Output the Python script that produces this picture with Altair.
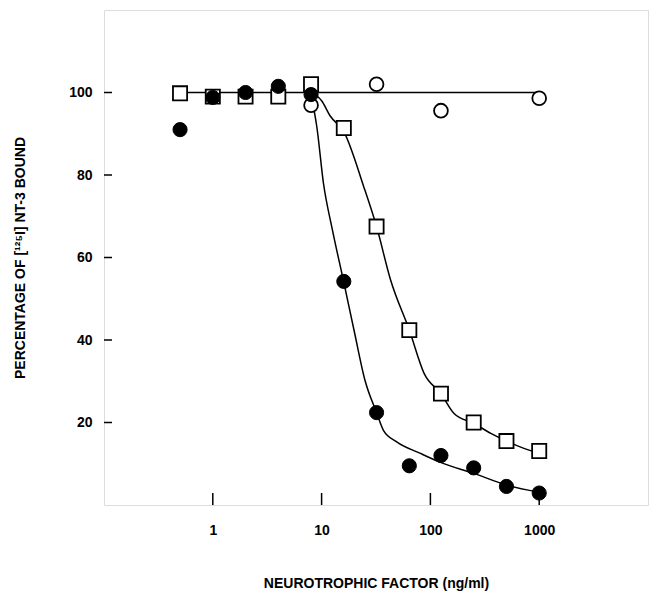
import altair as alt
import pandas as pd

# Measured points
conc = [0.5, 1, 2, 4, 8, 16, 32, 64, 125, 250, 500, 1000]
square_y = [99.8, 99.0, 99.0, 99.0, 102.0, 91.4, 67.5, 42.4, 27.0, 20.0, 15.5, 13.1]
filled_y = [91.0, 98.8, 100.0, 101.5, 99.5, 54.2, 22.4, 9.5, 12.0, 9.0, 4.5, 2.9]
open_x = [8, 32, 125, 1000]
open_y = [96.9, 102.0, 95.6, 98.6]

# Fitted curves
flat_x = [0.5, 1000]
flat_y = [100.0, 100.0]
fc_curve_x = [7, 8, 9, 10.4, 12.5, 16, 20, 25, 32, 37, 49, 81, 122, 254, 505, 1000]
fc_curve_y = [100, 98.5, 92, 78, 67, 54, 42, 30.3, 22.4, 18.1, 15.3, 12.5, 10.4, 7.6, 4.8, 3.1]
sq_curve_x = [7, 8, 10, 12, 16, 24.3, 32, 43, 64, 87.5, 125, 165, 250, 363, 500, 914, 1000]
sq_curve_y = [100, 99.8, 98, 94.3, 90.5, 77.3, 67.5, 54.6, 42.4, 31.9, 27, 22.2, 19.8, 17.3, 15.5, 12.9, 12.7]

x_ticks = [1, 10, 100, 1000]
y_ticks = [20, 40, 60, 80, 100]

FONT = "Liberation Sans"

xscale = alt.Scale(type="log", domain=[0.1, 10000], nice=False)
yscale = alt.Scale(domain=[0, 120], nice=False, zero=False)

xaxis = alt.Axis(
    title="NEUROTROPHIC FACTOR (ng/ml)", values=x_ticks, format="d",
    ticks=False, domain=False, grid=False, labelPadding=18, titlePadding=39,
    labelFont=FONT, labelFontWeight="bold", labelFontSize=14, labelColor="black",
    titleFont=FONT, titleFontWeight="bold", titleFontSize=14, titleColor="black",
    labelFlush=False,
)
yaxis = alt.Axis(
    title="PERCENTAGE OF [¹²⁵I] NT-3 BOUND", values=y_ticks,
    ticks=False, domain=False, grid=False, labelPadding=12, titlePadding=41,
    labelFont=FONT, labelFontWeight="bold", labelFontSize=14, labelColor="black",
    titleFont=FONT, titleFontWeight="bold", titleFontSize=14, titleColor="black",
    labelFlush=False,
)

df_pts = pd.DataFrame({"x": conc, "sq": square_y, "fc": filled_y})
df_open = pd.DataFrame({"x": open_x, "y": open_y})
df_flat = pd.DataFrame({"x": flat_x, "y": flat_y})
df_fc = pd.DataFrame({"x": fc_curve_x, "y": fc_curve_y})
df_sq = pd.DataFrame({"x": sq_curve_x, "y": sq_curve_y})
df_xt = pd.DataFrame({"x": x_ticks})
df_yt = pd.DataFrame({"y": y_ticks})

line_style = dict(color="black", strokeWidth=1.5, interpolate="monotone")

flat = alt.Chart(df_flat).mark_line(**line_style).encode(
    x=alt.X("x:Q", scale=xscale, axis=xaxis),
    y=alt.Y("y:Q", scale=yscale, axis=yaxis),
)
fc_line = alt.Chart(df_fc).mark_line(**line_style).encode(x="x:Q", y="y:Q")
sq_line = alt.Chart(df_sq).mark_line(**line_style).encode(x="x:Q", y="y:Q")

xt = alt.Chart(df_xt).mark_rule(color="black", strokeWidth=1.5).encode(
    x="x:Q", y=alt.value(495), y2=alt.value(483)
)
yt = alt.Chart(df_yt).mark_rule(color="black", strokeWidth=1.5).encode(
    y="y:Q", x=alt.value(0), x2=alt.value(8)
)

open_c = alt.Chart(df_open).mark_point(
    shape="circle", size=190, filled=True, fill="white", stroke="black", strokeWidth=1.8, opacity=1
).encode(x="x:Q", y="y:Q")
open_s = alt.Chart(df_pts).mark_point(
    shape="square", size=200, filled=True, fill="white", stroke="black", strokeWidth=1.8, opacity=1
).encode(x="x:Q", y="sq:Q")
filled_c = alt.Chart(df_pts).mark_point(
    shape="circle", size=200, filled=True, fill="black", stroke="black", strokeWidth=1, opacity=1
).encode(x="x:Q", y="fc:Q")

chart = alt.layer(flat, fc_line, sq_line, xt, yt, open_c, open_s, filled_c).properties(
    width=544, height=495,
    padding={"left": 96, "top": 2, "right": 4, "bottom": 92},
    autosize="none",
).configure_view(stroke="black", strokeWidth=2).configure(background="white")

chart.save("out.html", embed_options={"renderer": "svg", "actions": False})
